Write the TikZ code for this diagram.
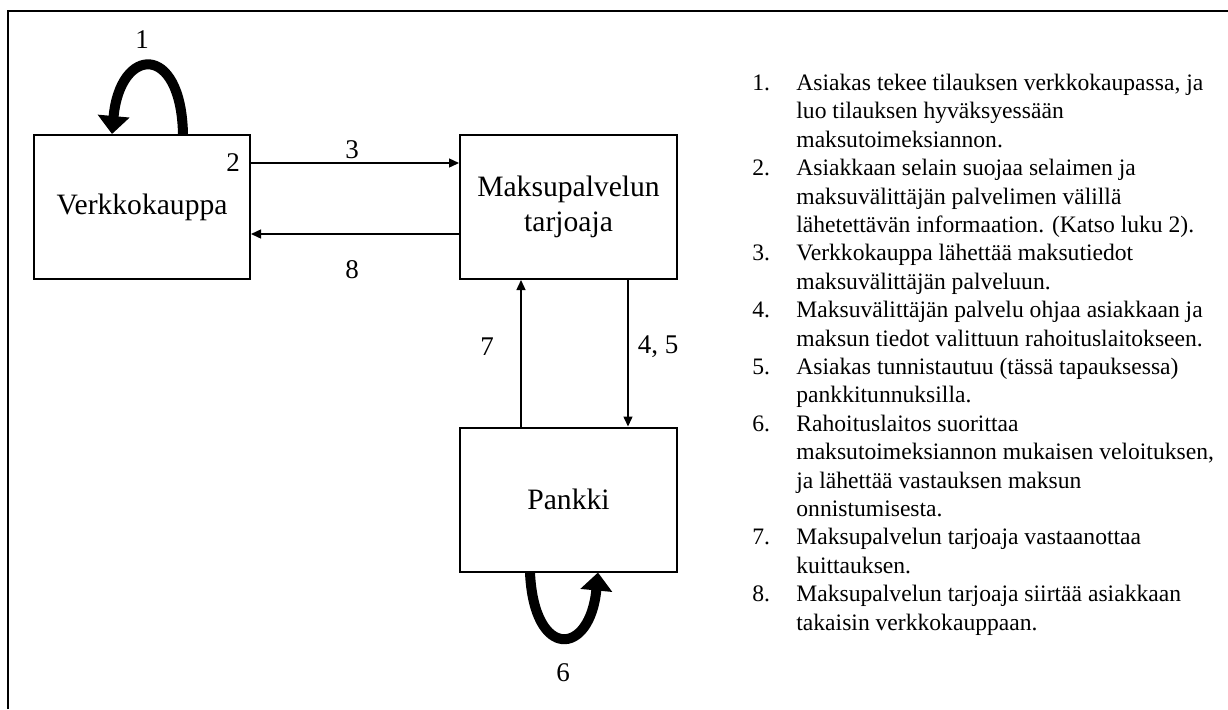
\documentclass[tikz,border=0pt]{standalone}
\usepackage{fontspec}
\setmainfont{Liberation Serif}
\usetikzlibrary{arrows.meta}

\tikzset{
    box/.style={
        draw,
        line width=1pt,
        minimum width=108pt,
        minimum height=72pt,
        inner sep=0pt,
        align=center,
        font=\fontsize{14.8}{17.5}\selectfont
    },
    flow/.style={line width=0.7pt, -{Triangle[width=4.5pt,length=5pt]}},
    selfloop/.style={line width=5pt, -{Triangle[width=15.5pt,length=9pt]}},
    num/.style={inner sep=0pt, font=\fontsize{13.5}{16}\selectfont}
}

\begin{document}
\begin{tikzpicture}[x=0.5pt, y=-0.5pt]
    \useasboundingbox (0,0) rectangle (1228,709);

    % kehys
    \draw[line width=1pt] (8,709) -- (8,11) -- (1228,11);

    % osapuolet
    \node[box]                          (shop) at (142,207)   {Verkkokauppa};
    \node[box, minimum width=108.5pt]   (psp)  at (568.5,207) {Maksupalvelun\\tarjoaja};
    \node[box, minimum width=108.5pt]   (bank) at (568.5,499.5) {Pankki};

    % viestit
    \draw[flow] ([yshift=22pt]shop.east)    -- ([yshift=22pt]psp.west);
    \draw[flow] ([yshift=-13.5pt]psp.west)  -- ([yshift=-13.5pt]shop.east);
    \draw[flow] ([xshift=-23.75pt]bank.north) -- ([xshift=-23.75pt]psp.south);
    \draw[flow] ([xshift=29.75pt]psp.south) -- ([xshift=29.75pt]bank.north);

    % silmukat
    \draw[selfloop] ([xshift=20.5pt]shop.north)
        .. controls +(-1pt,46pt) and +(4pt,44pt) .. ([xshift=-15pt]shop.north);
    \draw[selfloop] ([xshift=-19.25pt]bank.south)
        .. controls +(2pt,-44pt) and +(-4pt,-42pt) .. ([xshift=14.75pt]bank.south);

    % numerot
    \node[num] (n1)  at (142,40)  {1};
    \node[num] (n2)  at (233,163) {2};
    \node[num] (n3)  at (352,150) {3};
    \node[num] (n8)  at (352,270) {8};
    \node[num] (n7)  at (487,347) {7};
    \node[num] (n45) at (658,347) {4, 5};
    \node[num] (n6)  at (563,673) {6};

    % selitteet
    \node[anchor=base west, inner sep=0pt, font=\fontsize{11.8}{14.2}\selectfont]
        (legend) at (752,90.5) {%
        \begin{tabular}[t]{@{}p{22pt}@{}l@{}}
        1. & Asiakas tekee tilauksen verkkokaupassa, ja\\
           & luo tilauksen hyväksyessään\\
           & maksutoimeksiannon.\\
        2. & Asiakkaan selain suojaa selaimen ja\\
           & maksuvälittäjän palvelimen välillä\\
           & lähetettävän informaation. (Katso luku 2).\\
        3. & Verkkokauppa lähettää maksutiedot\\
           & maksuvälittäjän palveluun.\\
        4. & Maksuvälittäjän palvelu ohjaa asiakkaan ja\\
           & maksun tiedot valittuun rahoituslaitokseen.\\
        5. & Asiakas tunnistautuu (tässä tapauksessa)\\
           & pankkitunnuksilla.\\
        6. & Rahoituslaitos suorittaa\\
           & maksutoimeksiannon mukaisen veloituksen,\\
           & ja lähettää vastauksen maksun\\
           & onnistumisesta.\\
        7. & Maksupalvelun tarjoaja vastaanottaa\\
           & kuittauksen.\\
        8. & Maksupalvelun tarjoaja siirtää asiakkaan\\
           & takaisin verkkokauppaan.
        \end{tabular}};

\end{tikzpicture}
\end{document}
